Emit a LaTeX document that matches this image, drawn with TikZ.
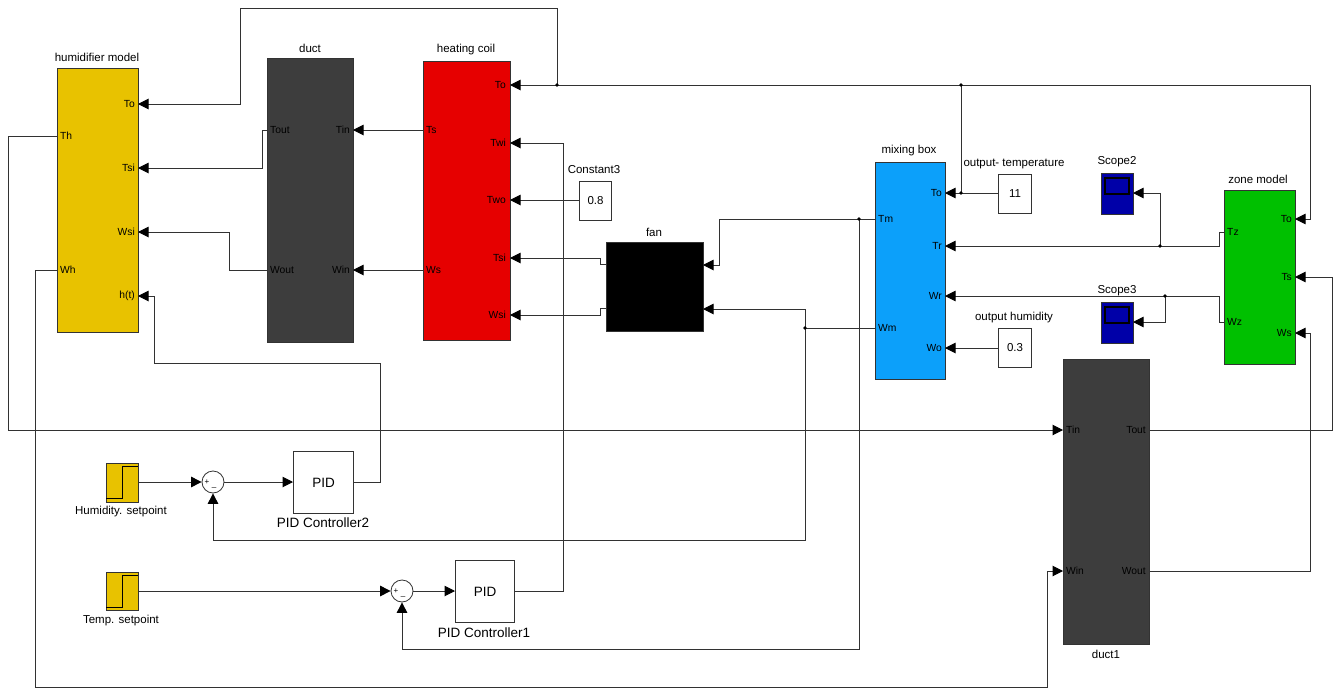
\documentclass[tikz,border=0pt]{standalone}
\usepackage{fontspec}
\setmainfont{Liberation Sans}
\usetikzlibrary{arrows.meta}
\definecolor{hyel}{RGB}{232,194,0}
\definecolor{ductc}{RGB}{61,61,61}
\definecolor{hred}{RGB}{230,0,0}
\definecolor{mblue}{RGB}{12,160,250}
\definecolor{zgreen}{RGB}{0,192,0}
\definecolor{scblue}{RGB}{0,0,168}
\definecolor{wirec}{RGB}{50,50,50}
\begin{document}
\begin{tikzpicture}[x=1pt,y=-1pt,
 wire/.style={draw=wirec,line width=1pt},
 arr/.style={wire,-{Triangle[length=10.5pt,width=10.5pt,color=black]}},
 blk/.style={draw=black!80,line width=1pt,inner sep=0pt,anchor=north west},
 plab/.style={font=\fontsize{10.3}{12}\selectfont,inner sep=0pt},
 ttl/.style={font=\fontsize{11.5}{13}\selectfont,inner sep=0pt},
 big/.style={font=\fontsize{13.5}{15}\selectfont,inner sep=0pt},
 sml/.style={font=\fontsize{8}{9}\selectfont,inner sep=0pt},
 dot/.style={circle,fill=black,inner sep=0pt,minimum size=3.8pt}]
\useasboundingbox[fill=white] (0,0) rectangle (1333,688);

% ---------------- blocks ----------------
\node[blk,fill=hyel,minimum width=81pt,minimum height=264pt] (hum) at (57,68) {};
\node[blk,fill=ductc,minimum width=86pt,minimum height=284pt] (duct) at (267,58) {};
\node[blk,fill=hred,minimum width=87pt,minimum height=279pt] (heat) at (423,61) {};
\node[blk,fill=black,minimum width=97pt,minimum height=89pt] (fan) at (606,242) {};
\node[blk,fill=white,minimum width=32pt,minimum height=39pt] (c3) at (579,181) {};
\node[blk,fill=mblue,minimum width=70pt,minimum height=217pt] (mix) at (875,162) {};
\node[blk,fill=white,minimum width=33pt,minimum height=39pt] (c11) at (998,174) {};
\node[blk,fill=white,minimum width=33pt,minimum height=39pt] (c03) at (998,328) {};
\node[blk,fill=scblue,minimum width=32pt,minimum height=41pt] (sc2) at (1101,173) {};
\node[blk,fill=scblue,minimum width=32pt,minimum height=41pt] (sc3) at (1101,302) {};
\node[blk,fill=zgreen,minimum width=71pt,minimum height=174pt] (zone) at (1224,190) {};
\node[blk,fill=ductc,minimum width=86pt,minimum height=285pt] (duct1) at (1063,359) {};
\node[blk,fill=white,minimum width=60pt,minimum height=62pt] (pid2) at (293,451) {};
\node[blk,fill=white,minimum width=59pt,minimum height=62pt] (pid1) at (455,560) {};
\node[blk,fill=hyel,minimum width=32pt,minimum height=39pt] (st1) at (106,463) {};
\node[blk,fill=hyel,minimum width=32pt,minimum height=38pt] (st2) at (106,572) {};
\node[circle,draw=black!80,line width=0.8pt,fill=white,minimum size=22pt,inner sep=0pt] (sum1) at (213,482) {};
\node[circle,draw=black!80,line width=0.8pt,fill=white,minimum size=22pt,inner sep=0pt] (sum2) at (402,591) {};

% block contents
\node[plab,font=\fontsize{11.5}{13}\selectfont] (v08) at (c3.center) {0.8};
\node[plab,font=\fontsize{11.5}{13}\selectfont] (v11) at (c11.center) {11};
\node[plab,font=\fontsize{11.5}{13}\selectfont] (v03) at (c03.center) {0.3};
\node[big] (tp2) at (pid2.center) {PID};
\node[big] (tp1) at (pid1.center) {PID};
\node[sml] (s1p) at (207,482) {+};
\node[sml] (s1m) at (214,487) {\_};
\node[sml] (s2p) at (396,591) {+};
\node[sml] (s2m) at (403,596) {\_};
\draw[black,line width=1pt] (106,498) -- (122,498) -- (122,466) -- (138,466);
\draw[black,line width=1pt] (106,607) -- (122,607) -- (122,575) -- (138,575);
\draw[black,line width=1.3pt] (1105,178) rectangle (1129,194);
\draw[black,line width=1.3pt] (1105,307) rectangle (1129,323);

% titles
\node[ttl] (thum) at (97,57) {humidifier model};
\node[ttl] (tduct) at (310,48) {duct};
\node[ttl] (theat) at (466,50) {heating coil};
\node[ttl] (tc3) at (594,170) {Constant3};
\node[ttl] (tfan) at (654,232) {fan};
\node[ttl] (tmix) at (909,151) {mixing box};
\node[ttl] (tc11) at (1014,164) {output- temperature};
\node[ttl] (tc03) at (1014,318) {output humidity};
\node[ttl] (tsc2) at (1117,162) {Scope2};
\node[ttl] (tsc3) at (1117,291) {Scope3};
\node[ttl] (tzone) at (1258,179) {zone model};
\node[ttl] (tduct1) at (1106,654) {duct1};
\node[ttl] (tst1) at (121,512) {Humidity. setpoint};
\node[ttl] (tst2) at (121,621) {Temp. setpoint};
\node[big] (tpid2) at (323,523) {PID Controller2};
\node[big] (tpid1) at (484,633) {PID Controller1};

% ---------------- ports ----------------
\coordinate (humTo) at (138,104); \coordinate (humTh) at (57,136);
\coordinate (humTsi) at (138,168); \coordinate (humWsi) at (138,232);
\coordinate (humWh) at (57,270); \coordinate (humht) at (138,296);
\coordinate (dTout) at (267,130); \coordinate (dTin) at (353,130);
\coordinate (dWout) at (267,270); \coordinate (dWin) at (353,270);
\coordinate (hTo) at (510,85); \coordinate (hTs) at (423,130);
\coordinate (hTwi) at (510,143); \coordinate (hTwo) at (510,200);
\coordinate (hTsi) at (510,258); \coordinate (hWs) at (423,270);
\coordinate (hWsi) at (510,315);
\coordinate (fo1) at (606,264); \coordinate (fo2) at (606,308);
\coordinate (fi1) at (703,265); \coordinate (fi2) at (703,309);
\coordinate (mTo) at (945,193); \coordinate (mTm) at (875,219);
\coordinate (mTr) at (945,246); \coordinate (mWr) at (945,296);
\coordinate (mWm) at (875,328); \coordinate (mWo) at (945,348);
\coordinate (zTo) at (1295,219); \coordinate (zTz) at (1224,232);
\coordinate (zTs) at (1295,277); \coordinate (zWz) at (1224,322);
\coordinate (zWs) at (1295,333);
\coordinate (d1Tin) at (1063,430); \coordinate (d1Tout) at (1149,430);
\coordinate (d1Win) at (1063,571); \coordinate (d1Wout) at (1149,571);
\coordinate (sc2in) at (1133,193); \coordinate (sc3in) at (1133,322);

% ---------------- junctions ----------------
\coordinate (jA) at (961,193); \coordinate (jB) at (961,85);
\coordinate (jC) at (557,85); \coordinate (jD) at (859,219);
\coordinate (jE) at (805,328); \coordinate (jF) at (1160,246);
\coordinate (jG) at (1165,296);

% ---------------- connectors ----------------
\draw[arr] (c11.west |- mTo) -- (mTo);
\draw[wire] (jA) -- (jB);
\draw[arr] (jB) -- (hTo);
\draw[arr] (jB) -- (1310,85) -- (1310,219) -- (zTo);
\draw[arr] (jC) -- (557,8) -- (240,8) -- (240,104) -- (humTo);

\draw[arr] (hTs) -- (dTin);
\draw[arr] (hWs) -- (dWin);
\draw[arr] (dTout) -- (262,130) -- (262,168) -- (humTsi);
\draw[arr] (dWout) -- (229,270) -- (229,232) -- (humWsi);

\draw[arr] (humTh) -- (8,136) -- (8,430) -- (d1Tin);
\draw[arr] (humWh) -- (35,270) -- (35,687) -- (1047,687) -- (1047,571) -- (d1Win);
\draw[arr] (pid2.east |- sum1) -- (380,482) -- (380,363) -- (154,363) -- (154,296) -- (humht);

\draw[arr] (st1.east |- sum1) -- (sum1.west);
\draw[arr] (sum1.east) -- (pid2.west |- sum1);
\draw[arr] (st2.east |- sum2) -- (sum2.west);
\draw[arr] (sum2.east) -- (pid1.west |- sum2);

\draw[wire] (mWm) -- (jE);
\draw[arr] (jE) -- (805,309) -- (fi2);
\draw[arr] (jE) -- (805,540) -- (213,540) -- (sum1.south);
\draw[wire] (mTm) -- (jD);
\draw[arr] (jD) -- (719,219) -- (719,265) -- (fi1);
\draw[arr] (jD) -- (859,649) -- (402,649) -- (sum2.south);

\draw[arr] (pid1.east |- sum2) -- (563,591) -- (563,143) -- (hTwi);
\draw[arr] (c3.west |- hTwo) -- (hTwo);
\draw[arr] (fo1) -- (600,264) -- (600,258) -- (hTsi);
\draw[arr] (fo2) -- (600,308) -- (600,315) -- (hWsi);

\draw[arr] (zTz) -- (1219,232) -- (1219,246) -- (mTr);
\draw[arr] (jF) -- (1160,193) -- (sc2in);
\draw[arr] (zWz) -- (1219,322) -- (1219,296) -- (mWr);
\draw[arr] (jG) -- (1165,322) -- (sc3in);
\draw[arr] (c03.west |- mWo) -- (mWo);

\draw[arr] (d1Tout) -- (1332,430) -- (1332,277) -- (zTs);
\draw[arr] (d1Wout) -- (1310,571) -- (1310,333) -- (zWs);

% dots
\node[dot] (dA) at (jA) {};
\node[dot] (dB) at (jB) {};
\node[dot] (dC) at (jC) {};
\node[dot] (dD) at (jD) {};
\node[dot] (dE) at (jE) {};
\node[dot] (dF) at (jF) {};
\node[dot] (dG) at (jG) {};

% port labels
\node[plab,anchor=east] (lhTo) at (135,104) {To};
\node[plab,anchor=west] (lhTh) at (60,136) {Th};
\node[plab,anchor=east] (lhTsi) at (135,168) {Tsi};
\node[plab,anchor=east] (lhWsi) at (135,232) {Wsi};
\node[plab,anchor=west] (lhWh) at (60,270) {Wh};
\node[plab,anchor=east] (lhht) at (135,296) {h(t)};
\node[plab,anchor=west] (ldTout) at (270,130) {Tout};
\node[plab,anchor=east] (ldTin) at (350,130) {Tin};
\node[plab,anchor=west] (ldWout) at (270,270) {Wout};
\node[plab,anchor=east] (ldWin) at (350,270) {Win};
\node[plab,anchor=east] (lcTo) at (506,85) {To};
\node[plab,anchor=west] (lcTs) at (426,130) {Ts};
\node[plab,anchor=east] (lcTwi) at (506,143) {Twi};
\node[plab,anchor=east] (lcTwo) at (506,200) {Two};
\node[plab,anchor=east] (lcTsi) at (506,258) {Tsi};
\node[plab,anchor=west] (lcWs) at (426,270) {Ws};
\node[plab,anchor=east] (lcWsi) at (506,315) {Wsi};
\node[plab,anchor=east] (lmTo) at (942,193) {To};
\node[plab,anchor=west] (lmTm) at (878,219) {Tm};
\node[plab,anchor=east] (lmTr) at (942,246) {Tr};
\node[plab,anchor=east] (lmWr) at (942,296) {Wr};
\node[plab,anchor=west] (lmWm) at (878,328) {Wm};
\node[plab,anchor=east] (lmWo) at (942,348) {Wo};
\node[plab,anchor=east] (lzTo) at (1292,219) {To};
\node[plab,anchor=west] (lzTz) at (1227,232) {Tz};
\node[plab,anchor=east] (lzTs) at (1292,277) {Ts};
\node[plab,anchor=west] (lzWz) at (1227,322) {Wz};
\node[plab,anchor=east] (lzWs) at (1292,333) {Ws};
\node[plab,anchor=west] (l1Tin) at (1066,430) {Tin};
\node[plab,anchor=east] (l1Tout) at (1146,430) {Tout};
\node[plab,anchor=west] (l1Win) at (1066,571) {Win};
\node[plab,anchor=east] (l1Wout) at (1146,571) {Wout};
\end{tikzpicture}
\end{document}
